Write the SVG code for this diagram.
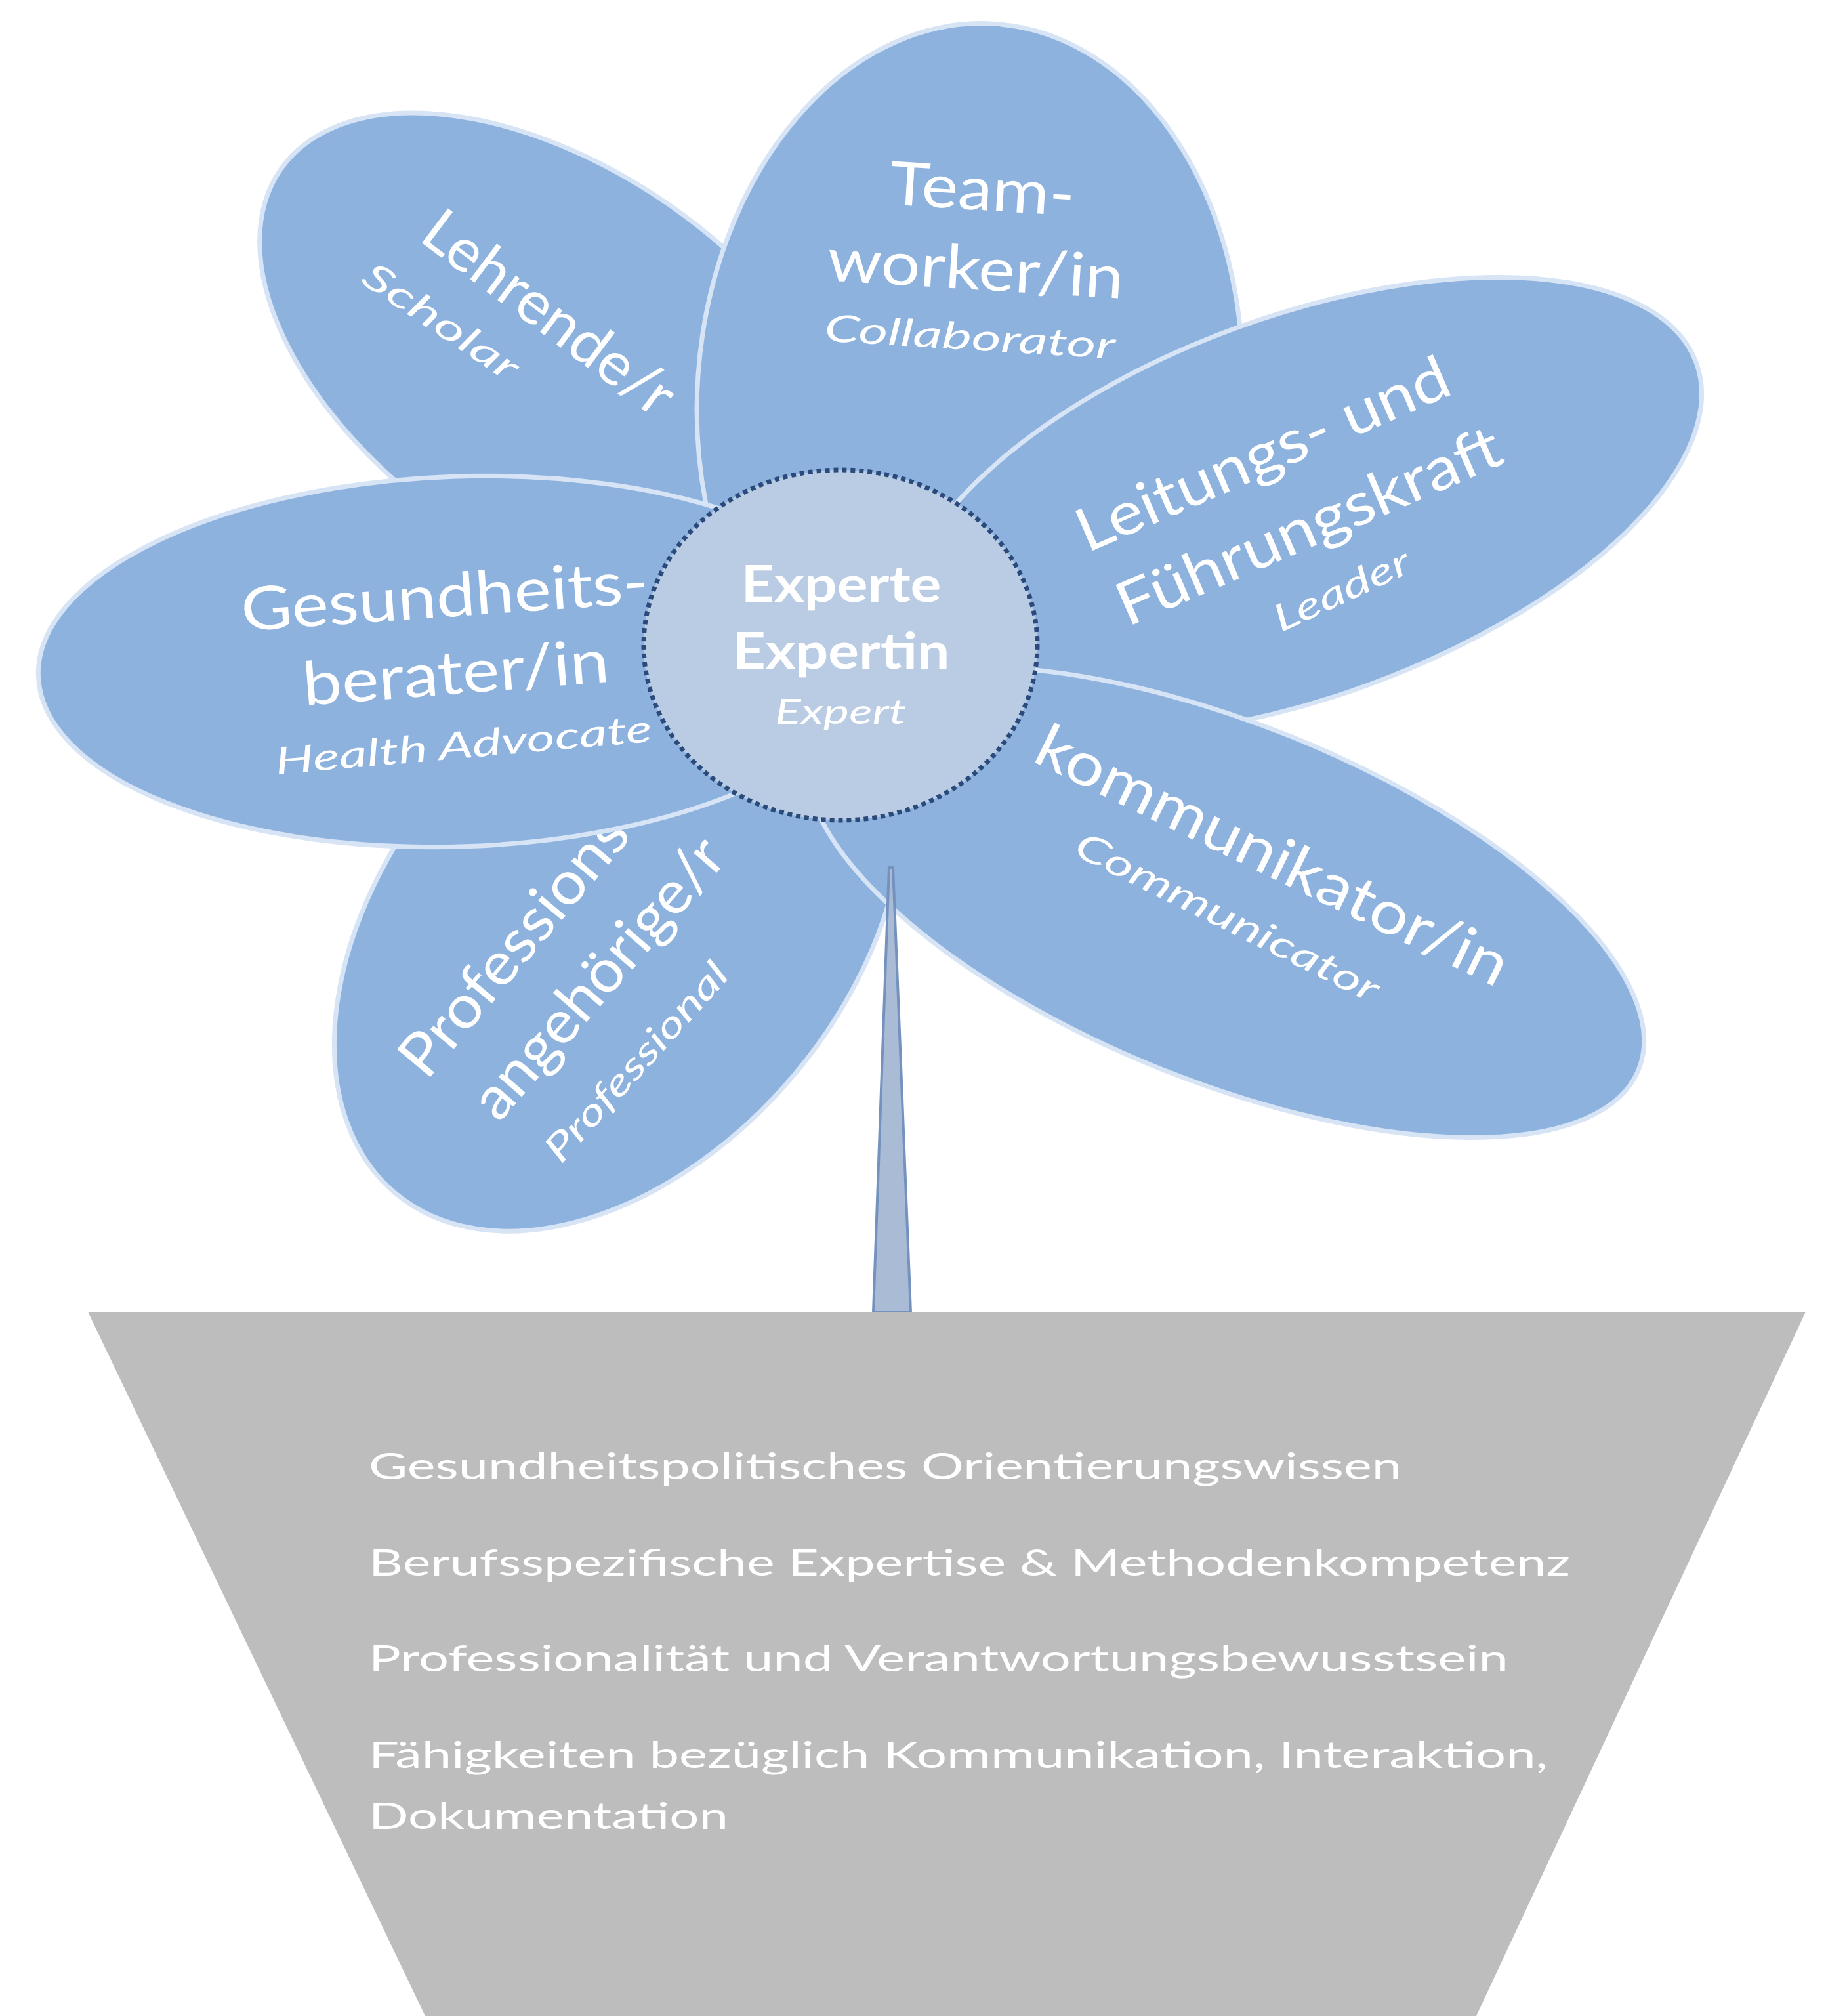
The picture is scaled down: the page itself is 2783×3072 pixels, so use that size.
<svg xmlns="http://www.w3.org/2000/svg" width="2783" height="3072" viewBox="0 0 2783 3072">
  <style>
    .petal { fill: #8eb2de; stroke: #d6e4f5; stroke-width: 7; }
    .lbl { font-family: Lato, "Open Sans", sans-serif; fill: #ffffff; font-size: 92px; text-anchor: middle; }
    .lbl-start { text-anchor: start; }
    .en { font-style: italic; font-size: 57px; }
    .core { font-family: Lato, "Open Sans", sans-serif; fill: #ffffff; text-anchor: middle; }
    .pot-text { font-family: Lato, "Open Sans", sans-serif; fill: #ffffff; font-size: 57px; }
  </style>

  <rect x="0" y="0" width="2783" height="3072" fill="#ffffff"/>

  <!-- petals, back to front -->
  <g id="petal-lehrende">
    <ellipse class="petal" cx="854" cy="556" rx="520" ry="295" transform="rotate(35 854 556)"/>
    <text class="lbl" transform="translate(818 502) rotate(37)" textLength="455" lengthAdjust="spacingAndGlyphs">Lehrende/r</text>
    <text class="lbl en" transform="translate(661 506) rotate(34)" textLength="274" lengthAdjust="spacingAndGlyphs">Scholar</text>
  </g>

  <g id="petal-teamworker">
    <ellipse class="petal" cx="1478" cy="600" rx="415" ry="565" transform="rotate(4 1478 600)"/>
    <text class="lbl" transform="translate(1495 320) rotate(3.5)" textLength="283" lengthAdjust="spacingAndGlyphs">Team-</text>
    <text class="lbl" transform="translate(1485 441) rotate(3.5)" textLength="452" lengthAdjust="spacingAndGlyphs">worker/in</text>
    <text class="lbl en" transform="translate(1477 533) rotate(3.5)" textLength="444" lengthAdjust="spacingAndGlyphs">Collaborator</text>
  </g>

  <g id="petal-leitung">
    <ellipse class="petal" cx="1984" cy="772" rx="640" ry="290" transform="rotate(-20 1984 772)"/>
    <text class="lbl" transform="translate(1937 721) rotate(-23.5)" textLength="611" lengthAdjust="spacingAndGlyphs">Leitungs- und</text>
    <text class="lbl" transform="translate(2007 830) rotate(-23.5)" textLength="630" lengthAdjust="spacingAndGlyphs">Führungskraft</text>
    <text class="lbl en" transform="translate(2053 917) rotate(-25)" textLength="223" lengthAdjust="spacingAndGlyphs">Leader</text>
  </g>

  <g id="petal-profession">
    <ellipse class="petal" cx="943" cy="1412" rx="530" ry="350" transform="rotate(-50 943 1412)"/>
    <text class="lbl lbl-start" transform="translate(650 1648) rotate(-50)" textLength="525" lengthAdjust="spacingAndGlyphs">Professions-</text>
    <text class="lbl lbl-start" transform="translate(760 1712) rotate(-49)" textLength="534" lengthAdjust="spacingAndGlyphs">angehörige/r</text>
    <text class="lbl lbl-start en" transform="translate(855 1775) rotate(-48)" textLength="387" lengthAdjust="spacingAndGlyphs">Professional</text>
  </g>

  <g id="petal-kommunikator">
    <ellipse class="petal" cx="1867" cy="1375" rx="680" ry="272" transform="rotate(22 1867 1375)"/>
    <text class="lbl" transform="translate(1926 1332) rotate(26)" textLength="790" lengthAdjust="spacingAndGlyphs">kommunikator/in</text>
    <text class="lbl en" transform="translate(1862 1415) rotate(26.5)" textLength="510" lengthAdjust="spacingAndGlyphs">Communicator</text>
  </g>

  <g id="petal-gesundheit">
    <ellipse class="petal" cx="700" cy="1008" rx="642" ry="282" transform="rotate(-2 700 1008)"/>
    <text class="lbl" transform="translate(680 940) rotate(-4)" textLength="622" lengthAdjust="spacingAndGlyphs">Gesundheits-</text>
    <text class="lbl" transform="translate(697 1057) rotate(-4.5)" textLength="468" lengthAdjust="spacingAndGlyphs">berater/in</text>
    <text class="lbl en" transform="translate(708 1155) rotate(-5)" textLength="576" lengthAdjust="spacingAndGlyphs">Health Advocate</text>
  </g>

  <!-- flower centre -->
  <g id="core-expert">
    <ellipse cx="1281" cy="983" rx="300" ry="267" fill="#b9cce4" stroke="#2a4a7c" stroke-width="7" stroke-dasharray="7 6"/>
    <text class="core" x="1282" y="917" font-size="76" font-weight="700" textLength="305" lengthAdjust="spacingAndGlyphs">Experte</text>
    <text class="core" x="1282" y="1019" font-size="76" font-weight="700" textLength="331" lengthAdjust="spacingAndGlyphs">Expertin</text>
    <text class="core" x="1281" y="1103" font-size="53" font-style="italic" textLength="200" lengthAdjust="spacingAndGlyphs">Expert</text>
  </g>

  <!-- stem -->
  <g id="stem">
    <polygon points="1355,1322 1361,1322 1388,1999 1331,1999" fill="#a9bbd5" stroke="#7592bf" stroke-width="4" stroke-linejoin="round"/>
  </g>

  <!-- pot with base competences -->
  <g id="pot">
    <polygon points="134,1999 2752,1999 2250,3072 648,3072" fill="#bebdbe"/>
    <text class="pot-text" x="562" y="2254" textLength="1574" lengthAdjust="spacingAndGlyphs">Gesundheitspolitisches Orientierungswissen</text>
    <text class="pot-text" x="562" y="2401" textLength="1831" lengthAdjust="spacingAndGlyphs">Berufsspezifische Expertise &amp; Methodenkompetenz</text>
    <text class="pot-text" x="562" y="2547" textLength="1737" lengthAdjust="spacingAndGlyphs">Professionalität und Verantwortungsbewusstsein</text>
    <text class="pot-text" x="562" y="2694" textLength="1797" lengthAdjust="spacingAndGlyphs">Fähigkeiten bezüglich Kommunikation, Interaktion,</text>
    <text class="pot-text" x="562" y="2787" textLength="548" lengthAdjust="spacingAndGlyphs">Dokumentation</text>
  </g>
</svg>
